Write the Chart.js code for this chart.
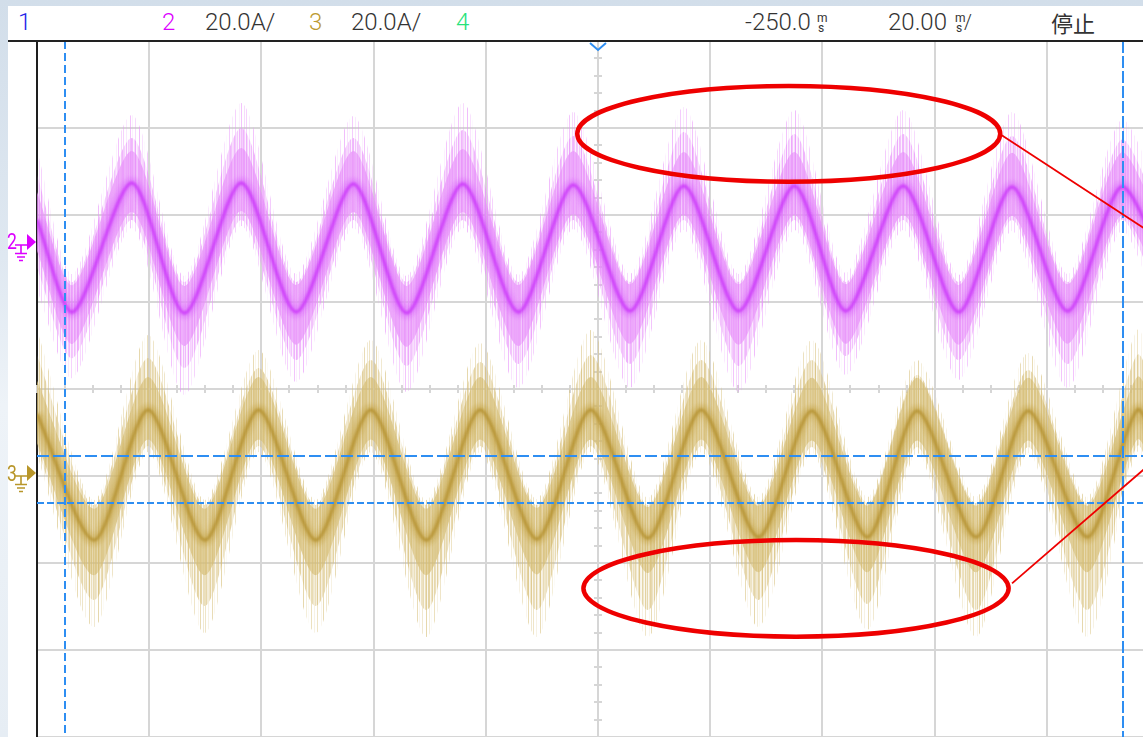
<!DOCTYPE html>
<html>
<head>
<meta charset="utf-8">
<script src="https://cdn.jsdelivr.net/npm/chart.js@4.4.1/dist/chart.umd.min.js"></script>
<style>
html,body{margin:0;padding:0;width:1143px;height:737px;overflow:hidden;}
body{position:relative;background:linear-gradient(180deg,#d2deea 0%,#dfe8f1 35%,#eef3f8 55%,#e6edf4 100%);}
#panel{position:absolute;left:8px;top:6px;width:1135px;height:731px;background:#fff;}
#topline{position:absolute;left:8px;top:40px;width:1135px;height:2px;background:#222;}
#c{position:absolute;left:0;top:0;}
.t{position:absolute;top:8px;font-family:Roboto,"DejaVu Sans",sans-serif;font-weight:300;font-size:24px;line-height:28px;color:#333;white-space:nowrap;}
.u{position:absolute;font-family:Roboto,"DejaVu Sans",sans-serif;font-weight:400;font-size:12px;line-height:12px;color:#333;}
.cjk{position:absolute;top:9px;font-family:"Noto Sans CJK SC","Noto Sans CJK JP",sans-serif;font-size:22px;line-height:26px;color:#333;}
.gm{position:absolute;left:7px;font-family:Roboto,"DejaVu Sans",sans-serif;font-size:22px;line-height:22px;transform:scaleX(0.8);transform-origin:left top;}
</style>
</head>
<body>
<div id="panel"></div>
<div class="t" style="left:18px;color:#2424e8">1</div>
<div class="t" style="left:162px;color:#dc00ff">2</div>
<div class="t" style="left:205px">20.0A/</div>
<div class="t" style="left:309px;color:#bc9a30">3</div>
<div class="t" style="left:351px">20.0A/</div>
<div class="t" style="left:456px;color:#26e27a">4</div>
<div class="t" style="left:745px">-250.0</div>
<div class="u" style="left:817px;top:12px">m</div>
<div class="u" style="left:818px;top:22px">s</div>
<div class="t" style="left:888px">20.00</div>
<div class="u" style="left:955px;top:12px">m</div>
<div class="u" style="left:956px;top:22px">s</div>
<div class="t" style="left:964px;font-size:20px">/</div>
<div class="cjk" style="left:1051px">停止</div>
<canvas id="c" width="1180" height="737"></canvas>
<div id="topline"></div>
<div class="gm" id="gm2" style="color:#dc00ff">2</div>
<div class="gm" id="gm3" style="color:#b8962a">3</div>
<script>
// ---- scope settings ----
const timeCenter = -250;      // ms (delay)
const timePerDiv = 20;        // ms/div
const ampPerDiv = 20;         // A/div
const xMin = timeCenter - 5 * timePerDiv;
const xMax = timeCenter + 5 * timePerDiv;
const ch2GroundDiv = 1.69;    // ground marker position, divisions above centre
const ch3GroundDiv = -0.966;

// ---- channel 2 (magenta): keyframes at peaks/troughs, amps ----
const ch2Time    = [-350.0, -343.6, -333.1, -323.7, -313.6, -303.8, -293.6, -284.1, -274.1, -264.2, -254.4, -244.3, -234.7, -224.9, -215.0, -205.8, -195.6, -185.7, -176.2, -166.3, -156.8, -150.0];
const ch2Mid     = [5.06, -16.09, 13.56, -16.32, 13.56, -16.09, 13.33, -16.32, 13.33, -16.09, 13.10, -15.86, 12.87, -15.86, 12.87, -15.86, 12.87, -16.09, 12.64, -15.86, 12.64, -1.84];
const ch2SpikeHi = [21.15, -7.36, 29.20, -7.82, 31.95, -7.36, 28.97, -7.82, 31.95, -7.59, 29.89, -7.36, 31.03, -7.36, 30.34, -7.13, 30.34, -7.59, 29.89, -7.36, 28.05, 11.95];
const ch2SpikeLo = [-11.03, -31.26, 3.22, -35.17, 3.68, -32.18, 3.22, -34.48, 3.22, -33.56, 2.99, -33.56, 2.76, -34.48, 2.76, -30.57, 2.76, -31.72, 2.53, -33.56, 2.53, -15.63];
const ch2TypHi   = [15.40, -9.20, 23.91, -9.20, 26.21, -9.20, 23.91, -9.20, 25.75, -9.20, 24.37, -9.20, 25.29, -9.20, 24.83, -9.20, 24.83, -9.20, 24.37, -9.20, 23.45, 7.36];
const ch2TypLo   = [-5.98, -26.67, 5.06, -28.97, 5.06, -27.13, 5.06, -28.51, 5.06, -28.05, 5.06, -28.05, 5.06, -28.51, 5.06, -26.21, 5.06, -27.13, 5.06, -28.05, 5.06, -12.41];
const ch2BandHi  = [11.50, -9.90, 20.90, -10.10, 21.60, -9.90, 20.90, -10.10, 21.40, -9.90, 20.90, -9.70, 20.70, -9.70, 20.70, -9.70, 20.70, -9.90, 20.50, -9.70, 20.50, 5.30];
const ch2BandLo  = [-2.10, -23.40, 6.90, -23.90, 7.10, -23.60, 6.90, -24.10, 6.90, -23.90, 6.40, -23.40, 6.20, -23.60, 6.20, -23.40, 6.20, -23.60, 6.00, -23.40, 6.00, -8.70];

// ---- channel 3 (gold) ----
const ch3Time    = [-350.0, -339.8, -330.2, -320.1, -310.5, -300.3, -290.5, -280.6, -271.0, -260.9, -251.3, -241.1, -231.6, -221.4, -211.9, -202.0, -193.1, -182.6, -173.3, -162.8, -153.9, -150.0];
const ch3Mid     = [13.56, -15.40, 14.48, -15.40, 14.48, -15.40, 14.48, -15.40, 14.48, -15.17, 14.48, -14.94, 14.48, -14.71, 14.25, -14.71, 14.25, -14.71, 14.25, -14.71, 14.48, 4.83];
const ch3SpikeHi = [32.87, -6.21, 31.72, -6.21, 28.28, -6.21, 30.57, -6.21, 29.89, -5.98, 32.87, -5.75, 30.57, -5.52, 30.57, -5.52, 25.98, -5.52, 27.59, -5.52, 32.87, 18.62];
const ch3SpikeLo = [4.14, -35.40, 4.83, -36.78, 4.83, -36.78, 4.83, -37.70, 4.83, -37.70, 4.83, -37.70, 4.83, -35.40, 4.60, -36.09, 4.60, -37.70, 4.60, -37.70, 4.83, -10.80];
const ch3TypHi   = [27.13, -7.36, 26.44, -7.36, 24.14, -7.36, 25.98, -7.36, 25.52, -7.36, 27.13, -7.36, 25.98, -6.90, 25.98, -6.90, 22.53, -6.90, 23.68, -6.90, 27.13, 15.63];
const ch3TypLo   = [5.75, -29.20, 6.21, -30.57, 6.21, -30.57, 6.21, -31.49, 6.21, -31.49, 6.21, -31.49, 6.21, -29.20, 5.98, -30.11, 5.98, -31.49, 5.98, -31.49, 6.21, -7.36];
const ch3BandHi  = [21.20, -8.20, 22.10, -8.20, 22.10, -8.20, 22.10, -8.20, 22.10, -8.00, 22.10, -7.80, 22.10, -7.50, 21.90, -7.50, 21.90, -7.50, 21.90, -7.50, 22.10, 11.80];
const ch3BandLo  = [6.80, -23.50, 7.70, -23.50, 7.70, -23.50, 7.70, -23.50, 7.70, -23.30, 7.70, -23.00, 7.70, -22.80, 7.50, -22.80, 7.50, -22.80, 7.50, -22.80, 7.70, -2.40];

// ---- cursors ----
const cursorTimes  = [-345.0, -156.4];  // ms
const cursorLevels = [3.91, -6.90];     // A on channel 3

// ---- red annotations ----
const ellT = [-216.0, -214.7], ellA = [24.85, -26.51], ellAxis = ['y2', 'y3'];
const ellRT = [37.7, 37.9], ellRA = [11.0, 11.1];
const lnT0 = [-178.1, -176.2], lnA0 = [24.6, -25.36], lnT1 = [-150.0, -150.0], lnA1 = [0.94, 3.86];

// ---- styles ----
const GRID = '#d6d6d6';
const CURSOR = '#2e8ef2';
const RED = '#ee0000';
const CH2 = '#dc00ff', CH3 = '#b8962a';
const TEX_SPARSE = [6,0,0,3,0,0,0,8,0,2,0,0,5,0,0,0,9,0,0,4,0,1,0,0,7,0,0,3,0,0,6,0,0,0,2,0,8,0,0,5,0];
const TEX_MED    = [7,0,4,9,0,2,6,0,8,3,0,5,9,1,0,7,4,0,6,2,8,0,3,9,0,5,1,7,0,6,4,0,9];
const TEX_DENSE  = [8,4,9,2,6,7,3,9,5,1,8,6,4,9,7,2,5,8,3,6,9,4,7,1,8,5,6,9,3,7,2,8];

function stripes(rgb, tex, base, gain) {
  const cv = document.createElement('canvas');
  cv.width = tex.length; cv.height = 2;
  const cx = cv.getContext('2d');
  tex.forEach((a, i) => {
    cx.fillStyle = `rgba(${rgb},${Math.min(1, base + gain * a / 9)})`;
    cx.fillRect(i, 0, 1, 2);
  });
  return cx.createPattern(cv, 'repeat');
}
const pts = (ts, vs) => ts.map((t, i) => ({x: t, y: vs[i]}));
function ds(label, ts, vs, axis, order, extra) {
  return Object.assign({
    label, data: pts(ts, vs), yAxisID: axis, order,
    pointRadius: 0, borderWidth: 1, borderColor: 'rgba(0,0,0,0)',
    tension: 0.27, fill: false
  }, extra || {});
}
const M_RGB = '232,145,250', G_RGB = '214,190,118';

const datasets = [
  ds('ch3 spike hi', ch3Time, ch3SpikeHi, 'y3', 100),
  ds('ch3 spike lo', ch3Time, ch3SpikeLo, 'y3', 100, {fill: '-1', backgroundColor: stripes(G_RGB, TEX_SPARSE, 0.0, 0.6)}),
  ds('ch2 spike hi', ch2Time, ch2SpikeHi, 'y2', 95),
  ds('ch2 spike lo', ch2Time, ch2SpikeLo, 'y2', 95, {fill: '-1', backgroundColor: stripes(M_RGB, TEX_SPARSE, 0.0, 0.6)}),
  ds('ch3 typ hi', ch3Time, ch3TypHi, 'y3', 90),
  ds('ch3 typ lo', ch3Time, ch3TypLo, 'y3', 90, {fill: '-1', backgroundColor: stripes(G_RGB, TEX_MED, 0.12, 0.55)}),
  ds('ch2 typ hi', ch2Time, ch2TypHi, 'y2', 85),
  ds('ch2 typ lo', ch2Time, ch2TypLo, 'y2', 85, {fill: '-1', backgroundColor: stripes(M_RGB, TEX_MED, 0.12, 0.55)}),
  ds('ch3 band hi', ch3Time, ch3BandHi, 'y3', 80),
  ds('ch3 band lo', ch3Time, ch3BandLo, 'y3', 80, {fill: '-1', backgroundColor: stripes(G_RGB, TEX_DENSE, 0.38, 0.4)}),
  ds('ch2 band hi', ch2Time, ch2BandHi, 'y2', 70),
  ds('ch2 band lo', ch2Time, ch2BandLo, 'y2', 70, {fill: '-1', backgroundColor: stripes(M_RGB, TEX_DENSE, 0.38, 0.4)}),
  ds('ch3 core', ch3Time, ch3Mid, 'y3', 60, {borderWidth: 12, borderColor: 'rgba(196,162,66,0.45)', blur: 2}),
  ds('ch2 core', ch2Time, ch2Mid, 'y2', 50, {borderWidth: 12, borderColor: 'rgba(214,95,250,0.42)', blur: 2}),
  ds('ch3', ch3Time, ch3Mid, 'y3', 40, {borderWidth: 3.5, borderColor: 'rgba(178,142,42,0.72)', blur: 1}),
  ds('ch2', ch2Time, ch2Mid, 'y2', 30, {borderWidth: 3.5, borderColor: 'rgba(200,45,250,0.72)', blur: 1})
];

const scopeDecor = {
  id: 'scopeDecor',
  beforeDatasetsDraw(chart) {
    const {ctx, scales} = chart;
    const x = scales.x, y2 = scales.y2;
    const xc = Math.round(x.getPixelForValue(timeCenter));
    const yc = Math.round(y2.getPixelForValue(-ch2GroundDiv * ampPerDiv));
    ctx.save();
    ctx.strokeStyle = GRID; ctx.lineWidth = 2;
    ctx.beginPath();
    for (let k = 0; k <= 40; k++) {
      const p = Math.round(x.getPixelForValue(xMin + k * timePerDiv / 4));
      ctx.moveTo(p, yc - 4); ctx.lineTo(p, yc + 4);
    }
    for (let k = 0; k <= 40; k++) {
      const p = Math.round(y2.getPixelForValue(y2.min + k * ampPerDiv / 5));
      ctx.moveTo(xc - 4, p); ctx.lineTo(xc + 4, p);
    }
    ctx.stroke();
    ctx.restore();
  },
  beforeDatasetDraw(chart, args) {
    const b = chart.data.datasets[args.index].blur;
    if (b) { chart.ctx.save(); chart.ctx.filter = `blur(${b}px)`; }
  },
  afterDatasetDraw(chart, args) {
    if (chart.data.datasets[args.index].blur) chart.ctx.restore();
  },
  afterDatasetsDraw(chart) {
    const {ctx, chartArea: ca, scales} = chart;
    const x = scales.x;
    ctx.save();
    ctx.filter = 'none';
    // cursors
    ctx.strokeStyle = CURSOR; ctx.lineWidth = 2;
    cursorTimes.forEach((t, i) => {
      const p = Math.round(x.getPixelForValue(t));
      ctx.setLineDash(i === 0 ? [8, 4] : [12, 3]);
      ctx.beginPath(); ctx.moveTo(p, ca.top); ctx.lineTo(p, ca.bottom); ctx.stroke();
    });
    cursorLevels.forEach((v, i) => {
      const p = Math.round(scales.y3.getPixelForValue(v));
      ctx.setLineDash(i === 0 ? [12, 4] : [7, 3]);
      ctx.beginPath(); ctx.moveTo(ca.left, p); ctx.lineTo(ca.right, p); ctx.stroke();
    });
    ctx.setLineDash([]);
    // trigger marker
    const xt = Math.round(x.getPixelForValue(timeCenter));
    ctx.beginPath();
    ctx.moveTo(xt - 8, ca.top + 2); ctx.lineTo(xt, ca.top + 9); ctx.lineTo(xt + 8, ca.top + 2);
    ctx.stroke();
    // ground markers
    [['y2', CH2], ['y3', CH3]].forEach(([id, col]) => {
      const gy = Math.round(scales[id].getPixelForValue(0));
      const lx = ca.left;
      ctx.fillStyle = col; ctx.strokeStyle = col; ctx.lineWidth = 1.6;
      ctx.beginPath(); ctx.moveTo(lx - 10, gy - 8); ctx.lineTo(lx - 1, gy); ctx.lineTo(lx - 10, gy + 8); ctx.closePath(); ctx.fill();
      ctx.beginPath();
      ctx.moveTo(lx - 22, gy + 3); ctx.lineTo(lx - 10, gy + 3);
      ctx.moveTo(lx - 16, gy + 3); ctx.lineTo(lx - 16, gy + 11);
      ctx.moveTo(lx - 22, gy + 11.5); ctx.lineTo(lx - 10, gy + 11.5);
      ctx.moveTo(lx - 20, gy + 15); ctx.lineTo(lx - 12, gy + 15);
      ctx.moveTo(lx - 18, gy + 18.5); ctx.lineTo(lx - 14, gy + 18.5);
      ctx.stroke();
    });
    // red annotations
    ctx.strokeStyle = RED;
    ctx.lineWidth = 4.5;
    ellT.forEach((t, i) => {
      const ys = scales[ellAxis[i]];
      const cx = x.getPixelForValue(t), cy = ys.getPixelForValue(ellA[i]);
      const rx = Math.abs(x.getPixelForValue(t + ellRT[i]) - cx);
      const ry = Math.abs(ys.getPixelForValue(ellA[i] + ellRA[i]) - cy);
      ctx.beginPath(); ctx.ellipse(cx, cy, rx, ry, 0, 0, Math.PI * 2); ctx.stroke();
    });
    ctx.lineWidth = 1.8;
    lnT0.forEach((t, i) => {
      const ys = scales[ellAxis[i]];
      ctx.beginPath();
      ctx.moveTo(x.getPixelForValue(t), ys.getPixelForValue(lnA0[i]));
      ctx.lineTo(x.getPixelForValue(lnT1[i]), ys.getPixelForValue(lnA1[i]));
      ctx.stroke();
    });
    ctx.restore();
  }
};

const chart = new Chart(document.getElementById('c'), {
  type: 'line',
  data: {datasets},
  options: {
    responsive: false,
    animation: false,
    events: [],
    layout: {padding: {left: 37, top: 41, right: 21, bottom: 0}},
    plugins: {legend: {display: false}, tooltip: {enabled: false}},
    scales: {
      x: {
        type: 'linear', min: xMin, max: xMax,
        ticks: {display: false, stepSize: timePerDiv},
        grid: {color: GRID, lineWidth: 2, drawTicks: false},
        border: {display: false}
      },
      y2: {
        type: 'linear', position: 'left',
        min: (-4 - ch2GroundDiv) * ampPerDiv, max: (4 - ch2GroundDiv) * ampPerDiv,
        ticks: {display: false, stepSize: ampPerDiv},
        grid: {color: GRID, lineWidth: 2, drawTicks: false},
        border: {display: true, color: '#1e1e1e', width: 2}
      },
      y3: {
        type: 'linear', display: false,
        min: (-4 - ch3GroundDiv) * ampPerDiv, max: (4 - ch3GroundDiv) * ampPerDiv
      }
    }
  },
  plugins: [scopeDecor]
});

// channel number labels next to the ground markers
const g2 = chart.scales.y2.getPixelForValue(0);
const g3 = chart.scales.y3.getPixelForValue(0);
document.getElementById('gm2').style.top = (g2 - 11) + 'px';
document.getElementById('gm3').style.top = (g3 - 10) + 'px';
</script>
</body>
</html>
